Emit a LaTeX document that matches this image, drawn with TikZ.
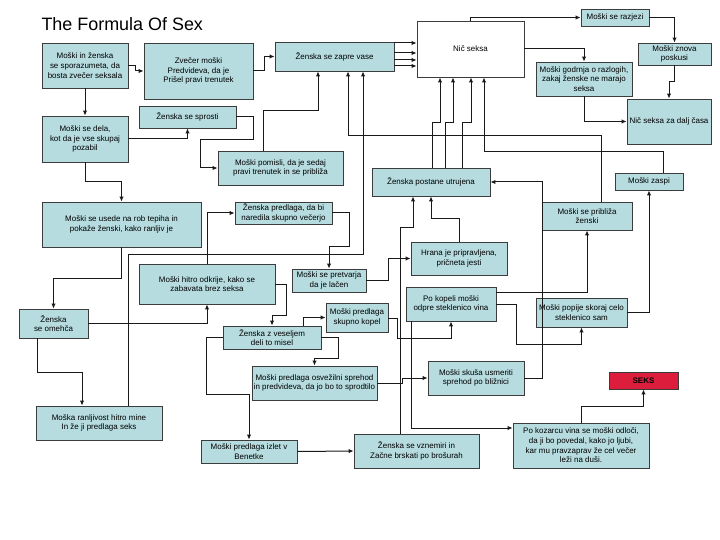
\documentclass[tikz,border=0pt]{standalone}
\usepackage{fontspec}
\setmainfont{Liberation Sans}
\usetikzlibrary{arrows.meta}
\definecolor{box-fill}{HTML}{B6DCE0}
\definecolor{box-line}{HTML}{3C3C3C}
\definecolor{seks-red}{HTML}{DC1E3C}

\begin{document}
\begin{tikzpicture}[x=1bp, y=-1bp,
    every node/.style={font=\fontsize{8}{9.7}\selectfont},
    box/.style={draw=box-line, fill=box-fill, line width=0.9bp, align=center, inner sep=1bp},
    conn/.style={draw=black!90, line width=1bp, -{Latex[length=5bp,width=4.5bp]}}]
    \useasboundingbox (0,0) rectangle (720,540);
    \node[anchor=base west, font=\fontsize{18}{22}\selectfont] (title) at (38,31) {The Formula Of Sex};

    % left column
    \node[box, minimum width=86bp, minimum height=45bp] (dogovor) at (85,65.5)
      {Moški in ženska\\se sporazumeta, da\\bosta zvečer seksala};
    \node[box, minimum width=86bp, minimum height=46bp] (pozabil) at (85,139)
      {Moški se dela,\\kot da je vse skupaj\\pozabil};
    \node[box, minimum width=159bp, minimum height=45bp] (tepih) at (121.5,224.5)
      {Moški se usede na rob tepiha in\\pokaže ženski, kako ranljiv je};
    \node[box, minimum width=69bp, minimum height=29bp] (omehca) at (53.5,323.5)
      {Ženska\\se omehča};
    \node[box, minimum width=126bp, minimum height=34bp] (ranljivost) at (99,423)
      {Moška ranljivost hitro mine\\In že ji predlaga seks};

    % middle
    \node[box, minimum width=109bp, minimum height=56bp] (zvecer) at (198.5,71)
      {Zvečer moški\\Predvideva, da je\\Prišel pravi trenutek};
    \node[box, minimum width=119bp, minimum height=29bp] (zapre) at (334.5,56.5)
      {Ženska se zapre vase};
    \node[box, minimum width=97bp, minimum height=22bp] (sprosti) at (187.5,117)
      {Ženska se sprosti};
    \node[box, minimum width=125bp, minimum height=34bp] (pomisli) at (280.5,168)
      {Moški pomisli, da je sedaj\\pravi trenutek in se približa};
    \node[box, minimum width=97bp, minimum height=22bp] (vecerja) at (283.5,213)
      {Ženska predlaga, da bi\\naredila skupno večerjo};
    \node[box, minimum width=136bp, minimum height=40bp] (zabava) at (207,284)
      {Moški hitro odkrije, kako se\\zabavata brez seksa};
    \node[box, minimum width=74bp, minimum height=23bp] (lacen) at (329,280.5)
      {Moški se pretvarja\\da je lačen};
    \node[box, minimum width=62bp, minimum height=29bp] (kopel) at (357,317.5)
      {Moški predlaga\\skupno kopel};
    \node[box, minimum width=98bp, minimum height=23bp] (veselje) at (272,337.5)
      {Ženska z veseljem\\deli to misel};
    \node[box, minimum width=125bp, minimum height=34bp] (sprehod) at (314.5,383)
      {Moški predlaga osvežilni sprehod\\in predvideva, da jo bo to sprodtilo};
    \node[box, minimum width=96bp, minimum height=23bp] (benetke) at (249,451.5)
      {Moški predlaga izlet v\\Benetke};
    \node[box, minimum width=125bp, minimum height=34bp] (brosure) at (416.5,451)
      {Ženska se vznemiri in\\Začne brskati po brošurah};

    % right part
    \node[box, fill=white, minimum width=107bp, minimum height=56bp] (nicseksa) at (470.5,49) {Nič seksa};
    \node[box, minimum width=68bp, minimum height=17bp] (razjezi) at (615,17.5) {Moški se razjezi};
    \node[box, minimum width=73bp, minimum height=22bp] (znova) at (674.5,54) {Moški znova\\poskusi};
    \node[box, minimum width=96bp, minimum height=34bp] (godrnja) at (584,79)
      {Moški godrnja o razlogih,\\zakaj ženske ne marajo\\seksa};
    \node[box, minimum width=84bp, minimum height=45bp] (dalj) at (669,121.5) {Nič seksa za dalj časa};
    \node[box, minimum width=118bp, minimum height=28bp] (utrujena) at (431,182) {Ženska postane utrujena};
    \node[box, minimum width=68bp, minimum height=17bp] (zaspi) at (649,181.5) {Moški zaspi};
    \node[box, minimum width=90bp, minimum height=28bp] (priblizaz) at (587,216) {Moški se približa\\ženski};
    \node[box, minimum width=96bp, minimum height=33bp] (hrana) at (459,258.5)
      {Hrana je pripravljena,\\pričneta jesti};
    \node[box, minimum width=90bp, minimum height=34bp] (vino) at (451,304)
      {Po kopeli moški\\odpre steklenico vina};
    \node[box, minimum width=91bp, minimum height=29bp] (popije) at (581.5,312.5)
      {Moški popije skoraj celo\\steklenico sam};
    \node[box, minimum width=96bp, minimum height=34bp] (bliznica) at (476,378)
      {Moški skuša usmeriti\\sprehod po bližnici};
    \node[box, fill=seks-red, minimum width=69bp, minimum height=17bp, font=\fontsize{8}{9.7}\selectfont\bfseries] (seks) at (643.5,380.5) {SEKS};
    \node[box, minimum width=136bp, minimum height=45bp] (ljubi) at (581,445.5)
      {Po kozarcu vina se moški odloči,\\da ji bo povedal, kako jo ljubi,\\kar mu pravzaprav že cel večer\\leži na duši.};

    % connectors
    \draw[conn] (dogovor.east |- 0,66) -| (135,71) -- (zvecer.west |- 0,71);
    \draw[conn] (dogovor.south) -- (pozabil.north);
    \draw[conn] (zvecer.east) -- (264,71) |- (zapre.west);
    \foreach \y in {43,53,60,66}
      \draw[conn] (zapre.east |- 0,\y) -- (nicseksa.west |- 0,\y);
    \draw[conn] (nicseksa.north) |- (razjezi.west);
    \draw[conn] (nicseksa.east) -| (godrnja.north);
    \draw[conn] (razjezi.east) -| (znova.north);
    \draw[conn] (znova.south) -- (674.5,82) -| (dalj.north);
    \draw[conn] (godrnja.south) |- (dalj.west);
    \foreach \a/\b in {432/440,445/453,462/471}
      \draw[conn] (utrujena.north -| \a,0) |- (\b,123) -- (nicseksa.south -| \b,0);
    \draw[conn] (zaspi.north -| 663,0) |- (484,152) -- (nicseksa.south -| 484,0);
    \draw[conn] (priblizaz.north -| 601,0) |- (348,136) -- (zapre.south -| 348,0);
    \draw[conn] (ranljivost.north -| 128,0) |- (363,255) -- (zapre.south -| 363,0);
    \draw[conn] (pomisli.north -| 263,0) |- (318,111) -- (zapre.south -| 318,0);
    \draw[conn] (sprosti.east) -- (253,117) -- (253,140) -- (200,140) |- (pomisli.west);
    \draw[conn] (pozabil.east) -| (sprosti.south);
    \draw[conn] (pozabil.south) -- (85,182) -| (tepih.north);
    \draw[conn] (tepih.south) -- (121.5,278) -| (omehca.north);
    \draw[conn] (omehca.east) -| (zabava.south);
    \draw[conn] (zabava.north) |- (vecerja.west);
    \draw[conn] (omehca.south -| 37,0) |- (82,372) -- (ranljivost.north -| 82,0);
    \draw[conn] (vecerja.east) -- (349,213) -- (349,247) -| (lacen.north);
    \draw[conn] (lacen.east) -- (388,280.5) |- (hrana.west);
    \draw[conn] (hrana.north) -- (459,219) -| (utrujena.south);
    \draw[conn] (brosure.north -| 400,0) |- (413,228) -- (utrujena.south -| 413,0);
    \draw[conn] (bliznica.east) -- (542,378) |- (utrujena.east);
    \draw[conn] (vino.east |- 0,292) -| (priblizaz.south);
    \draw[conn] (vino.east) -- (516,304) -- (516,344) -| (popije.south);
    \draw[conn] (popije.east) -| (zaspi.south);
    \draw[conn] (kopel.east |- 0,318) -- (397,318) -- (397,338) -| (vino.south);
    \draw[conn] (vino.south -| 411,0) |- (ljubi.west |- 0,428);
    \draw[conn] (veselje.north -| 303,0) |- (kopel.west);
    \draw[conn] (zabava.east) -- (286,284) -- (286,315) -| (veselje.north);
    \draw[conn] (veselje.east) -- (338,337.5) -- (338,358) -| (sprehod.north);
    \draw[conn] (veselje.west) -- (206,337.5) -- (206,394) -| (benetke.north);
    \draw[conn] (sprehod.east) -- (402,383) |- (bliznica.west);
    \draw[conn] (benetke.east) -- (brosure.west);
    \draw[conn] (ljubi.north) |- (643.5,406) -- (seks.south);
\end{tikzpicture}
\end{document}
